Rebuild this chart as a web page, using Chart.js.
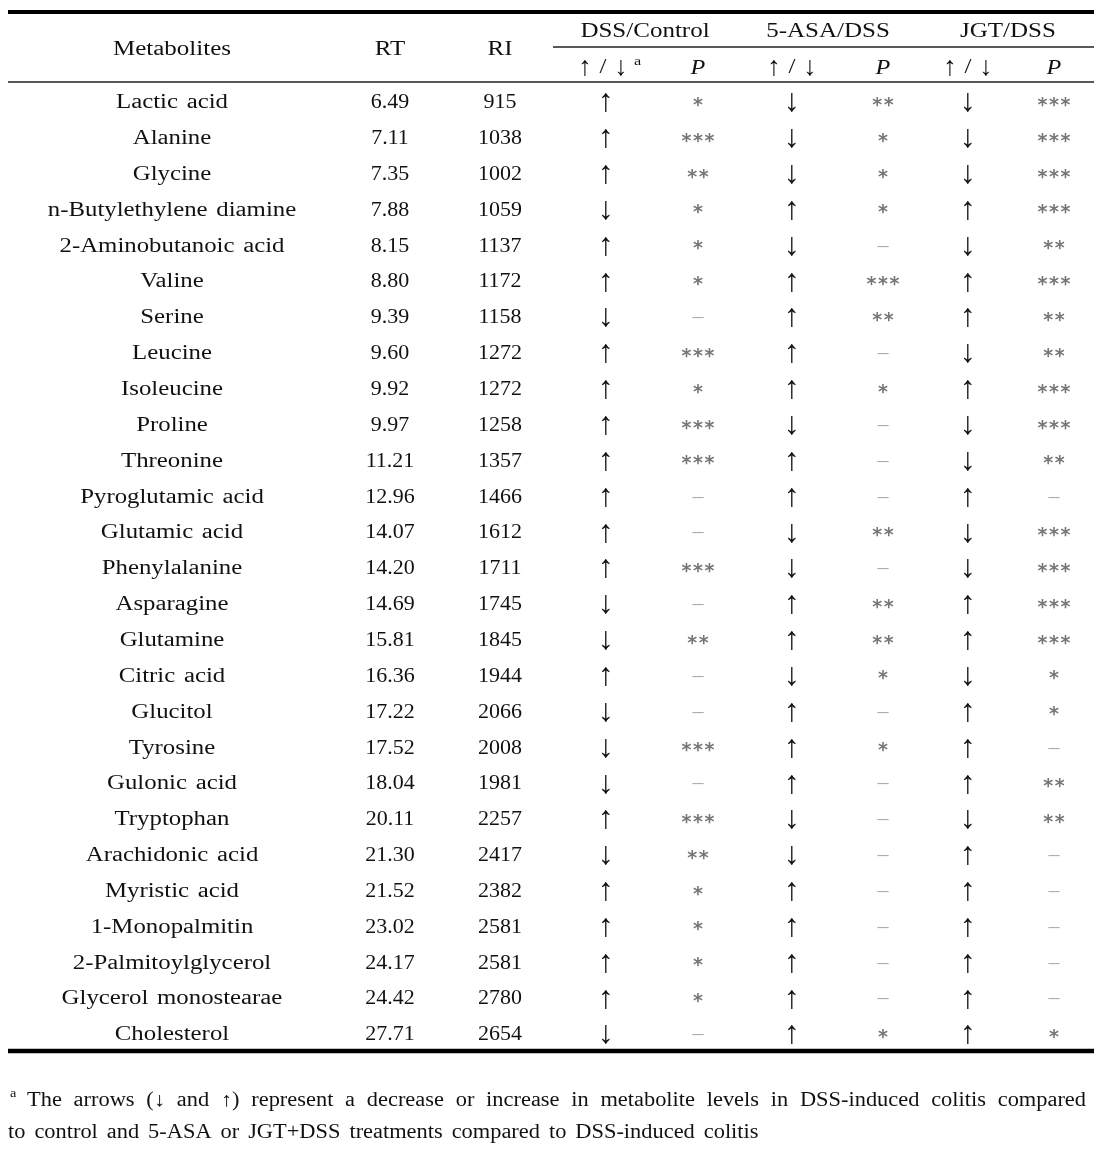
<!DOCTYPE html>
<html>
<head>
<meta charset="utf-8">
<script src="https://cdn.jsdelivr.net/npm/chart.js@4.4.1/dist/chart.umd.min.js"></script>
<style>
  html, body { margin: 0; padding: 0; background: #fff; }
  canvas { display: block; }
</style>
</head>
<body>
<canvas id="tbl" width="1094" height="1164"></canvas>
<script>
// table data
var metabolites = ['Lactic acid', 'Alanine', 'Glycine', 'n-Butylethylene diamine', '2-Aminobutanoic acid',
  'Valine', 'Serine', 'Leucine', 'Isoleucine', 'Proline', 'Threonine', 'Pyroglutamic acid', 'Glutamic acid',
  'Phenylalanine', 'Asparagine', 'Glutamine', 'Citric acid', 'Glucitol', 'Tyrosine', 'Gulonic acid',
  'Tryptophan', 'Arachidonic acid', 'Myristic acid', '1-Monopalmitin', '2-Palmitoylglycerol',
  'Glycerol monostearae', 'Cholesterol'];
var rt = ['6.49', '7.11', '7.35', '7.88', '8.15', '8.80', '9.39', '9.60', '9.92', '9.97', '11.21', '12.96', '14.07',
  '14.20', '14.69', '15.81', '16.36', '17.22', '17.52', '18.04', '20.11', '21.30', '21.52', '23.02', '24.17',
  '24.42', '27.71'];
var ri = [915, 1038, 1002, 1059, 1137, 1172, 1158, 1272, 1272, 1258, 1357, 1466, 1612, 1711, 1745, 1845, 1944,
  2066, 2008, 1981, 2257, 2417, 2382, 2581, 2581, 2780, 2654];

// 1 = up, -1 = down ; p = number of asterisks (0 = not significant)
var dirDssControl = [1, 1, 1, -1, 1, 1, -1, 1, 1, 1, 1, 1, 1, 1, -1, -1, 1, -1, -1, -1, 1, -1, 1, 1, 1, 1, -1];
var pDssControl   = [1, 3, 2, 1, 1, 1, 0, 3, 1, 3, 3, 0, 0, 3, 0, 2, 0, 0, 3, 0, 3, 2, 1, 1, 1, 1, 0];
var dirAsaDss = [-1, -1, -1, 1, -1, 1, 1, 1, 1, -1, 1, 1, -1, -1, 1, 1, -1, 1, 1, 1, -1, -1, 1, 1, 1, 1, 1];
var pAsaDss   = [2, 1, 1, 1, 0, 3, 2, 0, 1, 0, 0, 0, 2, 0, 2, 2, 1, 0, 1, 0, 0, 0, 0, 0, 0, 0, 1];
var dirJgtDss = [-1, -1, -1, 1, -1, 1, 1, -1, 1, -1, -1, 1, -1, -1, 1, 1, -1, 1, 1, 1, -1, 1, 1, 1, 1, 1, 1];
var pJgtDss   = [3, 3, 3, 3, 2, 3, 2, 2, 3, 3, 2, 0, 3, 3, 3, 3, 1, 1, 0, 2, 2, 0, 0, 0, 0, 0, 1];

var groups = ['DSS/Control', '5-ASA/DSS', 'JGT/DSS'];
var footLine1 = 'The arrows (\u2193 and \u2191) represent a decrease or increase in metabolite levels in DSS-induced colitis compared';
var footLine2 = 'to control and 5-ASA or JGT+DSS treatments compared to DSS-induced colitis';

// layout
var colX = [172, 390, 500, 606, 698, 792, 883, 968, 1054];
var groupX = [645, 828, 1008];
var SERIF = '"Liberation Serif", "DejaVu Serif", serif';

var columns = [
  { kind: 'name', values: metabolites },
  { kind: 'num', values: rt },
  { kind: 'num', values: ri.map(String) },
  { kind: 'dir', values: dirDssControl },
  { kind: 'p', values: pDssControl },
  { kind: 'dir', values: dirAsaDss },
  { kind: 'p', values: pAsaDss },
  { kind: 'dir', values: dirJgtDss },
  { kind: 'p', values: pJgtDss }
];

// draw text stretched horizontally (the original uses a wide serif)
function txt(ctx, s, x, y, font, o) {
  o = o || {};
  ctx.save();
  ctx.font = font;
  ctx.fillStyle = o.color || '#111';
  ctx.textAlign = o.align || 'center';
  ctx.textBaseline = 'middle';
  if (o.ws) ctx.wordSpacing = o.ws + 'px';
  ctx.translate(x, y + 2);
  ctx.scale(o.sx || 1.25, 1);
  ctx.fillText(s, 0, 0);
  ctx.restore();
}

function textWidth(ctx, s, font, o) {
  ctx.save();
  ctx.font = font;
  if (o.ws) ctx.wordSpacing = o.ws + 'px';
  var w = ctx.measureText(s).width * (o.sx || 1.25);
  ctx.restore();
  return w;
}

function stars(ctx, n, x, y) {
  if (n === 0) {
    txt(ctx, '\u2013', x, y, '20px ' + SERIF, { color: '#aaa', sx: 1.1 });
    return;
  }
  var step = 11.5;
  for (var k = 0; k < n; k++) {
    ctx.save();
    ctx.font = 'bold 19px "DejaVu Sans"';
    ctx.fillStyle = '#777';
    ctx.textAlign = 'center';
    ctx.textBaseline = 'middle';
    ctx.fillText('*', x + (k - (n - 1) / 2) * step, y + 5);
    ctx.restore();
  }
}

function hline(ctx, x1, x2, y, w) {
  ctx.save();
  ctx.fillStyle = '#000';
  ctx.fillRect(x1, y - w / 2, x2 - x1, w);
  ctx.restore();
}

var tablePlugin = {
  id: 'tablePlugin',
  afterDatasetsDraw: function (chart) {
    var ctx = chart.ctx;
    var area = chart.chartArea;
    var font = '20px ' + SERIF;

    chart.data.datasets.forEach(function (ds, di) {
      var meta = chart.getDatasetMeta(di);
      meta.data.forEach(function (pt, i) {
        var v = ds.values[i];
        if (ds.kind === 'name') txt(ctx, v, pt.x, pt.y, font, { ws: 2, sx: 1.24 });
        else if (ds.kind === 'num') txt(ctx, v, pt.x, pt.y, font, { sx: 1.1 });
        else if (ds.kind === 'dir') txt(ctx, v > 0 ? '\u2191' : '\u2193', pt.x, pt.y, '32px ' + SERIF, { sx: 1 });
        else stars(ctx, v, pt.x, pt.y);
      });
    });

    // rules
    var top = area.top;
    hline(ctx, 8, 1094, top - 71, 4);
    hline(ctx, 553, 1094, top - 36, 1.3);
    hline(ctx, 8, 1094, top - 1, 1.3);
    hline(ctx, 8, 1094, area.bottom, 4.5);

    // header
    txt(ctx, 'Metabolites', colX[0], top - 35, font);
    txt(ctx, 'RT', colX[1], top - 35, font);
    txt(ctx, 'RI', colX[2], top - 35, font);
    groups.forEach(function (g, i) { txt(ctx, g, groupX[i], top - 53, font); });
    for (var g = 0; g < 3; g++) {
      var ax = colX[3 + g * 2] - (g === 0 ? 3 : 0);
      var yy = top - 17;
      txt(ctx, '\u2191', ax - 18, yy, '27px ' + SERIF, { sx: 1 });
      txt(ctx, '/', ax, yy, '20px ' + SERIF);
      txt(ctx, '\u2193', ax + 18, yy, '27px ' + SERIF, { sx: 1 });
      if (g === 0) txt(ctx, 'a', ax + 31, yy - 6, '13px ' + SERIF, { align: 'left' });
      txt(ctx, 'P', colX[4 + g * 2], yy, 'italic 21px ' + SERIF, { sx: 1.15 });
    }

    // footnote
    var fy1 = area.bottom + 48, fy2 = area.bottom + 80;
    txt(ctx, 'a', 10, fy1 - 7, '13px ' + SERIF, { align: 'left', sx: 1.1 });
    var fo = { sx: 1.12, align: 'left' };
    var words = footLine1.split(' ');
    var widths = words.map(function (w) { return textWidth(ctx, w, font, fo); });
    var total = widths.reduce(function (a, b) { return a + b; }, 0);
    var left = 27, right = 1086;
    var gap = (right - left - total) / (words.length - 1);
    var x = left;
    words.forEach(function (w, i) {
      txt(ctx, w, x, fy1, font, fo);
      x += widths[i] + gap;
    });
    txt(ctx, footLine2, 8, fy2, font, { sx: 1.12, align: 'left', ws: 3 });
  }
};

var datasets = columns.map(function (col, c) {
  return {
    kind: col.kind,
    values: col.values,
    data: metabolites.map(function (m) { return { x: colX[c], y: m }; }),
    pointRadius: 0,
    pointHoverRadius: 0,
    showLine: false
  };
});

new Chart(document.getElementById('tbl'), {
  type: 'scatter',
  data: { datasets: datasets },
  options: {
    responsive: false,
    animation: false,
    devicePixelRatio: 1,
    events: [],
    layout: { padding: { top: 83, bottom: 113, left: 0, right: 0 } },
    scales: {
      x: { type: 'linear', min: 0, max: 1094, display: false },
      y: { type: 'category', labels: metabolites, offset: true, display: false }
    },
    plugins: { legend: { display: false }, tooltip: { enabled: false } }
  },
  plugins: [tablePlugin]
});
</script>
</body>
</html>
